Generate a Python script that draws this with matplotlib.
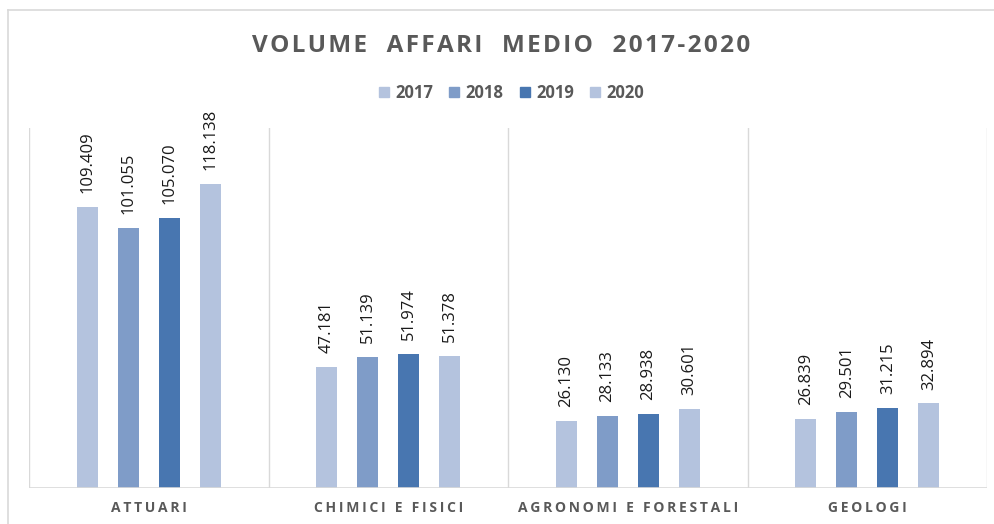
import matplotlib.pyplot as plt
import numpy as np
from matplotlib.lines import Line2D

plt.rcParams['font.family'] = ['Open Sans', 'DejaVu Sans']

# data
categories = ['ATTUARI', 'CHIMICI E FISICI', 'AGRONOMI E FORESTALI', 'GEOLOGI']
years = ['2017', '2018', '2019', '2020']
v2017 = [109409, 47181, 26130, 26839]
v2018 = [101055, 51139, 28133, 29501]
v2019 = [105070, 51974, 28938, 31215]
v2020 = [118138, 51378, 30601, 32894]
series = [v2017, v2018, v2019, v2020]
colors = ['#B4C3DE', '#7F9CC8', '#4876B0', '#B4C3DE']

grey = '#595959'
sep = '#D9D9D9'


def spaced(s, gap='\u2009'):
    return gap.join(list(s))


def fmt(v):
    return f'{v:,}'.replace(',', '.')


fig = plt.figure(figsize=(9.95, 5.24), dpi=100)
ax = fig.add_axes([0.0291, 0.0687, 0.963, 0.687])

x = np.arange(len(categories))
width = 0.088
step = 0.171
for i, (vals, c) in enumerate(zip(series, colors)):
    pos = x + (i - 1.5) * step
    ax.bar(pos, vals, width=width, color=c, zorder=3)
    for p, v in zip(pos, vals):
        ax.annotate(fmt(v), (p, v), xytext=(0, 10), textcoords='offset points',
                    rotation=90, ha='center', va='bottom', fontsize=12,
                    color='#1a1a1a')

ax.set_xlim(-0.5, len(categories) - 0.5)
ax.set_ylim(0, 140000)
for b in np.arange(-0.5, len(categories), 1.0):
    ax.axvline(b, color=sep, lw=1, zorder=1)
for s in ax.spines.values():
    s.set_visible(False)
ax.axhline(0, color=sep, lw=1.2, zorder=4)
ax.set_yticks([])
ax.set_xticks(x)
ax.set_xticklabels([spaced(c) for c in categories], fontsize=10,
                   fontweight='bold', color=grey)
ax.tick_params(axis='x', length=0, pad=9)

fig.text(0.504, 0.913, spaced('VOLUME  AFFARI  MEDIO  2017-2020', '\u200a'),
         ha='center', va='center', fontsize=17.5, fontweight='bold', color=grey)

handles = [Line2D([], [], marker='s', ls='', markersize=7, color=c) for c in colors]
fig.legend(handles, years, loc='center', bbox_to_anchor=(0.513, 0.823),
           ncol=4, frameon=False, handletextpad=0.25, handlelength=0.9,
           columnspacing=0.8, prop={'weight': 'bold', 'size': 12},
           labelcolor=grey)

# outer frame of the chart
fig.add_artist(Line2D([0.008, 0.008], [0.0, 0.981], color=sep, lw=1.2,
                      transform=fig.transFigure))
fig.add_artist(Line2D([0.008, 1.0], [0.981, 0.981], color=sep, lw=1.2,
                      transform=fig.transFigure))

fig.savefig('out.png', dpi=100)
